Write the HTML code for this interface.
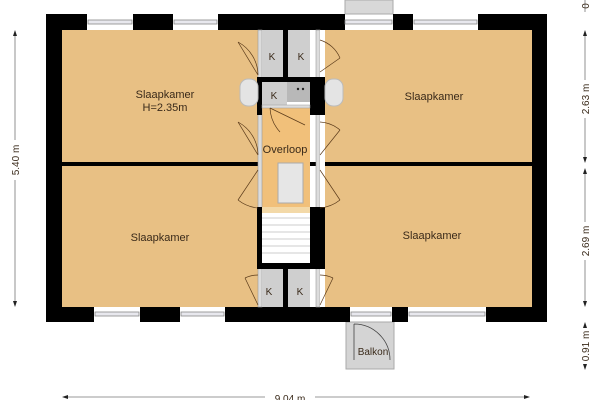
<!DOCTYPE html>
<html><head><meta charset="utf-8"><style>
html,body{margin:0;padding:0;background:#fff}
svg{display:block}
text{font-family:"Liberation Sans",sans-serif;fill:#3a2a1a}
</style></head><body>
<svg width="600" height="400" viewBox="0 0 600 400" xmlns="http://www.w3.org/2000/svg">
<!-- floors -->
<rect x="62" y="30" width="196" height="277" fill="#e8c084"/>
<rect x="325" y="30" width="207" height="277" fill="#e8c084"/>
<rect x="262" y="107" width="48" height="100" fill="#f1c07a"/>
<!-- top balcony -->
<rect x="345" y="0" width="48" height="14" fill="#d8d8d8" stroke="#aaa"/>
<!-- bottom balcony -->
<rect x="346" y="322" width="48" height="47" fill="#d4d4d4" stroke="#aaa"/>
<path d="M354 324 L354 360 M354 324 A36 36 0 0 1 390 360" fill="none" stroke="#444" stroke-width="0.8"/>
<text x="373" y="355" font-size="10" text-anchor="middle">Balkon</text>
<!-- outer walls -->
<g fill="#000">
<rect x="46" y="14" width="16" height="308"/>
<rect x="532" y="14" width="15" height="308"/>
<rect x="46" y="14" width="41" height="16"/>
<rect x="133" y="14" width="40" height="16"/>
<rect x="218" y="14" width="127" height="16"/>
<rect x="393" y="14" width="20" height="16"/>
<rect x="478" y="14" width="69" height="16"/>
<rect x="46" y="307" width="48" height="15"/>
<rect x="140" y="307" width="40" height="15"/>
<rect x="225" y="307" width="125" height="15"/>
<rect x="392" y="307" width="16" height="15"/>
<rect x="486" y="307" width="61" height="15"/>
<!-- room divider -->
<rect x="62" y="162" width="196" height="4"/>
<rect x="310" y="162" width="222" height="4"/>
</g>
<!-- windows -->
<g fill="#e8e8ee" stroke="#888" stroke-width="0.8">
<rect x="88" y="20" width="44" height="4"/><rect x="174" y="20" width="43" height="4"/>
<rect x="345" y="20" width="47" height="4"/><rect x="414" y="20" width="63" height="4"/>
<rect x="95" y="312" width="44" height="4"/><rect x="181" y="312" width="43" height="4"/>
<rect x="351" y="312" width="40" height="4"/><rect x="409" y="312" width="76" height="4"/>
</g>
<!-- thin interior walls -->
<rect x="258" y="30" width="4" height="277" fill="#dcdcdc" stroke="#999" stroke-width="0.6"/>
<rect x="316" y="30" width="4" height="277" fill="#dcdcdc" stroke="#999" stroke-width="0.6"/>
<rect x="320" y="30" width="5" height="277" fill="#fff"/>
<!-- closets top -->
<rect x="262" y="30" width="21" height="47" fill="#cfcfcf"/>
<rect x="288" y="30" width="22" height="47" fill="#cfcfcf"/>
<rect x="283" y="30" width="5" height="47" fill="#000"/>
<rect x="257" y="77" width="60" height="5" fill="#000"/>
<rect x="257" y="77" width="5" height="38" fill="#000"/>
<rect x="310" y="77" width="15" height="38" fill="#000"/>
<rect x="262" y="82" width="25" height="23" fill="#cfcfcf"/>
<rect x="287" y="82" width="23" height="20" fill="#b8b8b8"/>
<circle cx="298" cy="89" r="1.2" fill="#222"/><circle cx="303" cy="89" r="1.2" fill="#222"/>
<rect x="262" y="105" width="48" height="3" fill="#ddd" stroke="#999" stroke-width="0.5"/>
<!-- sink bowls -->
<rect x="240" y="79" width="18" height="27" rx="8" fill="#e4e4e4" stroke="#bbb"/>
<rect x="325" y="79" width="18" height="27" rx="8" fill="#e4e4e4" stroke="#bbb"/>
<!-- stair hole -->
<rect x="278" y="163" width="25" height="40" fill="#e6e6e6" stroke="#aaa"/>
<!-- stairs -->
<rect x="262" y="207" width="48" height="56" fill="#fff"/>
<rect x="262" y="207" width="48" height="6" fill="#f3d9a8"/>
<g stroke="#bbb" stroke-width="0.8">
<line x1="262" y1="218" x2="310" y2="218"/><line x1="262" y1="225" x2="310" y2="225"/>
<line x1="262" y1="232" x2="310" y2="232"/><line x1="262" y1="239" x2="310" y2="239"/>
<line x1="262" y1="246" x2="310" y2="246"/><line x1="262" y1="253" x2="310" y2="253"/>
</g>
<rect x="257" y="207" width="5" height="62" fill="#000"/>
<rect x="310" y="207" width="15" height="62" fill="#000"/>
<rect x="257" y="263" width="68" height="6" fill="#000"/>
<!-- bottom closets -->
<rect x="262" y="269" width="21" height="38" fill="#cfcfcf"/>
<rect x="288" y="269" width="22" height="38" fill="#cfcfcf"/>
<rect x="283" y="269" width="5" height="38" fill="#000"/>
<!-- door swings -->
<g fill="none" stroke="#5a3a1a" stroke-width="0.7">
<path d="M258 75 L238 42 M258 75 A38 38 0 0 0 238 42"/>
<path d="M320 72 L340 58 M320 40 A32 32 0 0 1 340 58"/>
<path d="M258 155 L238 122 M258 155 A38 38 0 0 0 238 122"/>
<path d="M320 155 L340 130 M320 122 A34 34 0 0 1 340 130"/>
<path d="M258 170 L238 200 M258 208 A38 38 0 0 1 238 200"/>
<path d="M320 170 L340 200 M320 208 A38 38 0 0 0 340 200"/>
<path d="M258 305 L245 278 M258 275 A30 30 0 0 0 245 278"/>
<path d="M320 305 L333 278 M320 275 A30 30 0 0 1 333 278"/>
<path d="M270 108 L305 125 M270 108 A38 38 0 0 0 280 132"/>
</g>
<!-- labels -->
<g font-size="10" text-anchor="middle">
<text x="272" y="60">K</text><text x="301" y="60">K</text><text x="274" y="99">K</text>
<text x="269" y="295">K</text><text x="300" y="295">K</text>
</g>
<g font-size="11" text-anchor="middle">
<text x="165" y="98">Slaapkamer</text><text x="165" y="111">H=2.35m</text>
<text x="434" y="100">Slaapkamer</text>
<text x="160" y="241">Slaapkamer</text>
<text x="432" y="239">Slaapkamer</text>
<text x="285" y="153">Overloop</text>
</g>
<!-- dimensions -->
<g stroke="#777" stroke-width="0.8" fill="none">
<line x1="15" y1="32" x2="15" y2="140"/><line x1="15" y1="180" x2="15" y2="305"/>
<line x1="585" y1="32" x2="585" y2="80"/><line x1="585" y1="118" x2="585" y2="160"/>
<line x1="585" y1="170" x2="585" y2="222"/><line x1="585" y1="260" x2="585" y2="305"/>
<line x1="585" y1="0" x2="585" y2="12"/>
<line x1="64" y1="397" x2="265" y2="397"/><line x1="315" y1="397" x2="528" y2="397"/>
</g>
<g fill="#222">
<path d="M15 30 l-2 6 h4z"/><path d="M15 307 l-2 -6 h4z"/>
<path d="M585 30 l-2 6 h4z"/><path d="M585 163 l-2 -6 h4z"/>
<path d="M585 168 l-2 6 h4z"/><path d="M585 307 l-2 -6 h4z"/>
<path d="M585 322 l-2 6 h4z"/><path d="M585 370 l-2 -6 h4z"/>
<path d="M62 397 l6 -2 v4z"/><path d="M530 397 l-6 -2 v4z"/>
</g>
<g font-size="10" fill="#333">
<text transform="translate(19 160) rotate(-90)" text-anchor="middle">5.40 m</text>
<text transform="translate(589 99) rotate(-90)" text-anchor="middle">2.63 m</text>
<text transform="translate(589 241) rotate(-90)" text-anchor="middle">2.69 m</text>
<text transform="translate(589 346) rotate(-90)" text-anchor="middle">0.91 m</text>
<text transform="translate(589 6) rotate(-90)" text-anchor="middle">0</text>
<text x="290" y="402" text-anchor="middle">9.04 m</text>
</g>
</svg>
</body></html>
